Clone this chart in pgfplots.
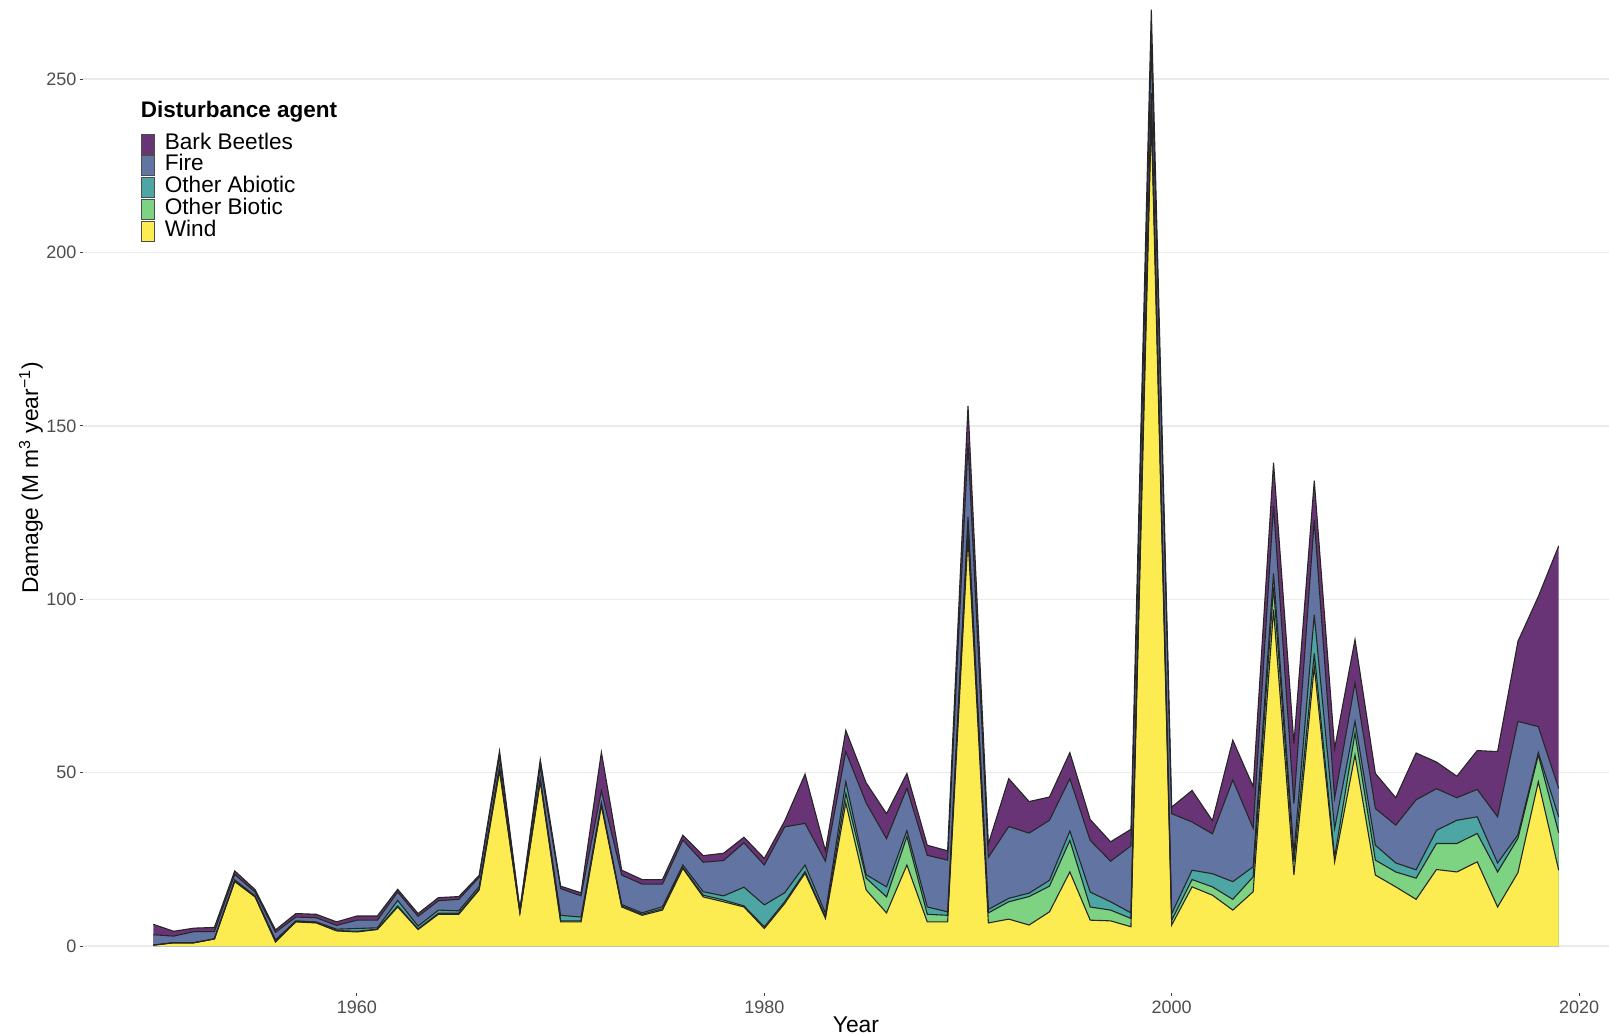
\documentclass[border=0pt]{standalone}
\usepackage{pgfplots}
\pgfplotsset{compat=1.18}
\usepackage{pgfplotstable}
\usepackage{fontspec}
\setmainfont{Liberation Sans}
\definecolor{cBB}{RGB}{105,52,118}
\definecolor{cFire}{RGB}{98,117,162}
\definecolor{cOA}{RGB}{77,166,163}
\definecolor{cOB}{RGB}{125,211,130}
\definecolor{cWind}{RGB}{253,236,81}
\definecolor{gridc}{RGB}{235,235,235}
\definecolor{tickc}{RGB}{77,77,77}
\pgfplotstableread{
year wind ob oa fire bb
1950 0.3 0.0 0.0 3.0 3.0
1951 1.0 0.0 0.0 1.9 1.4
1952 1.0 0.0 0.0 3.2 1.0
1953 2.1 0.0 0.0 2.1 1.2
1954 18.6 0.2 0.3 1.6 1.0
1955 14.2 0.1 0.2 1.1 0.7
1956 1.2 0.2 0.4 2.2 0.7
1957 7.0 0.1 0.2 1.1 1.0
1958 6.7 0.1 0.2 1.2 1.0
1959 4.4 0.1 0.4 1.1 1.0
1960 4.1 0.2 0.8 2.4 1.2
1961 4.8 0.1 0.4 2.2 1.2
1962 11.3 0.3 1.6 2.4 0.8
1963 4.8 0.2 0.8 2.8 0.8
1964 9.2 0.3 0.9 2.7 0.9
1965 9.2 0.3 0.7 3.3 0.8
1966 16.2 0.3 0.7 2.7 0.5
1967 50.5 0.5 0.8 3.0 1.5
1968 9.6 0.1 0.2 0.5 0.2
1969 47.5 0.3 0.5 3.5 2.0
1970 7.0 0.3 1.6 7.7 0.7
1971 7.0 0.3 1.1 6.1 0.9
1972 40.5 0.3 0.5 3.5 11.1
1973 11.3 0.3 0.4 8.5 1.4
1974 8.9 0.3 0.4 8.3 1.3
1975 10.4 0.4 0.6 6.5 1.3
1976 22.4 0.3 0.7 7.2 1.4
1977 14.2 0.5 1.0 8.5 1.9
1978 12.8 0.5 1.2 10.2 2.1
1979 11.3 0.3 5.4 12.8 1.6
1980 5.1 0.5 6.3 11.5 1.9
1981 12.3 0.5 2.6 19.0 1.7
1982 21.0 0.5 1.9 12.0 14.2
1983 8.0 0.5 1.0 15.0 3.0
1984 41.3 2.7 3.4 8.7 6.1
1985 16.2 3.4 1.0 20.7 5.8
1986 9.6 4.6 2.9 13.9 7.2
1987 23.4 8.2 1.7 12.2 4.3
1988 7.0 2.2 2.1 14.9 2.9
1989 7.0 1.9 1.0 14.9 2.7
1990 118.0 3.0 2.8 21.0 11.0
1991 6.7 2.9 1.0 15.0 3.9
1992 7.8 5.0 1.0 20.7 13.8
1993 6.1 8.2 1.0 17.3 9.1
1994 9.9 7.4 1.7 17.3 6.7
1995 21.4 9.1 2.7 15.1 7.5
1996 7.5 3.8 4.3 14.9 6.0
1997 7.3 3.1 2.4 11.7 5.6
1998 5.6 2.4 1.6 19.3 4.8
1999 239.0 3.0 4.0 14.0 10.0
2000 6.1 1.4 1.9 28.8 1.9
2001 17.1 2.1 2.7 13.9 9.1
2002 14.7 2.4 3.8 11.5 3.8
2003 10.4 3.1 5.1 29.3 11.5
2004 15.7 4.3 2.9 11.1 12.0
2005 97.0 6.5 4.0 19.5 12.4
2006 20.5 3.8 2.4 14.4 17.3
2007 80.6 3.8 11.1 27.4 11.3
2008 24.3 1.4 8.2 8.7 14.4
2009 55.1 6.3 3.4 11.1 12.5
2010 20.5 4.3 4.3 10.6 10.1
2011 17.1 4.3 2.6 10.9 7.9
2012 13.5 6.1 2.4 20.2 13.5
2013 22.1 7.5 3.8 12.0 7.7
2014 21.4 8.2 6.7 6.5 6.2
2015 24.3 8.2 4.8 7.9 11.2
2016 11.3 10.1 2.6 13.3 18.8
2017 21.2 9.9 1.0 32.7 23.1
2018 47.4 7.7 0.7 7.5 37.5
2019 21.9 10.8 4.6 8.2 69.9
}\dmg
\begin{document}
\begin{tikzpicture}
\begin{axis}[
  at={(0,0)}, anchor=south west,
  scale only axis, width=763bp, height=496.5bp,
  xmin=1946.55, xmax=2021.47, ymin=-13.5, ymax=272.8,
  axis line style={draw=none},
  xtick={1960,1980,2000,2020}, ytick={0,50,100,150,200,250},
  xtick pos=bottom, ytick pos=left, tick align=outside,
  major tick length=1.6bp,
  tick style={color=black!75, line width=0.5bp},
  ymajorgrids, grid style={color=gridc, line width=0.7bp},
  /pgf/number format/assume math mode=true,
  /pgf/number format/1000 sep={},
  ticklabel style={font=\fontsize{9bp}{10bp}\selectfont, color=tickc, inner sep=0pt},
  xticklabel style={yshift=-2bp},
  yticklabel style={xshift=-1.5bp},
  xlabel={Year},
  xlabel style={at={(axis description cs:0.5065,0)}, anchor=north, yshift=-11.5bp, inner sep=0pt, font=\fontsize{11.4bp}{12bp}\selectfont},
  ylabel={Damage (M m\textsuperscript{3} year\textsuperscript{−1})},
  ylabel style={at={(axis description cs:-0.0341,0.5187)}, anchor=center, inner sep=0pt, font=\fontsize{11.4bp}{12bp}\selectfont},
  legend cell align=left,
  legend image code/.code={\draw[#1, draw=black!70, line width=0.4bp] (0bp,-5bp) rectangle (6.75bp,5bp);},
  legend style={draw=none, fill=none, at={(axis description cs:0.0377,0.8654)}, anchor=north west,
    inner sep=0pt, outer sep=0pt, row sep=0.5bp, column sep=5bp,
    font=\fontsize{11.3bp}{11bp}\selectfont,
    nodes={inner sep=0pt, text height=7.5bp, text depth=2.5bp}},
]
\addplot[fill=cBB, draw=none] table[x=year, y expr=\thisrow{wind}+\thisrow{ob}+\thisrow{oa}+\thisrow{fire}+\thisrow{bb}] {\dmg} \closedcycle;
\addlegendentry{Bark Beetles}
\addplot[fill=cFire, draw=none] table[x=year, y expr=\thisrow{wind}+\thisrow{ob}+\thisrow{oa}+\thisrow{fire}] {\dmg} \closedcycle;
\addlegendentry{Fire}
\addplot[fill=cOA, draw=none] table[x=year, y expr=\thisrow{wind}+\thisrow{ob}+\thisrow{oa}] {\dmg} \closedcycle;
\addlegendentry{Other Abiotic}
\addplot[fill=cOB, draw=none] table[x=year, y expr=\thisrow{wind}+\thisrow{ob}] {\dmg} \closedcycle;
\addlegendentry{Other Biotic}
\addplot[fill=cWind, draw=none] table[x=year, y=wind] {\dmg} \closedcycle;
\addlegendentry{Wind}
\addplot[forget plot, draw=black!85, line width=0.55bp] table[x=year, y=wind] {\dmg};
\addplot[forget plot, draw=black!85, line width=0.55bp] table[x=year, y expr=\thisrow{wind}+\thisrow{ob}] {\dmg};
\addplot[forget plot, draw=black!85, line width=0.55bp] table[x=year, y expr=\thisrow{wind}+\thisrow{ob}+\thisrow{oa}] {\dmg};
\addplot[forget plot, draw=black!85, line width=0.55bp] table[x=year, y expr=\thisrow{wind}+\thisrow{ob}+\thisrow{oa}+\thisrow{fire}] {\dmg};
\addplot[forget plot, draw=black!85, line width=0.55bp] table[x=year, y expr=\thisrow{wind}+\thisrow{ob}+\thisrow{oa}+\thisrow{fire}+\thisrow{bb}] {\dmg};
\node[anchor=base west, inner sep=0pt, font=\bfseries\fontsize{11.25bp}{12bp}\selectfont] at (axis description cs:0.0377,0.8812) {Disturbance agent};
\end{axis}
\pgfresetboundingbox
\path[use as bounding box] (-41.5bp,-20.5bp) rectangle (763bp,496.5bp);
\end{tikzpicture}
\end{document}
